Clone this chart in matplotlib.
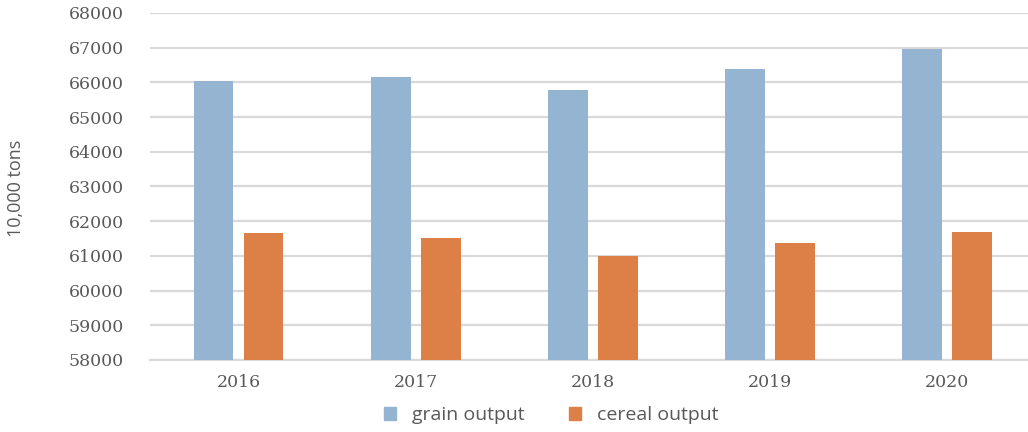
import numpy as np
import matplotlib.pyplot as plt
from matplotlib.patches import Patch

# grain and cereal output, in 10,000 tons
years = ['2016', '2017', '2018', '2019', '2020']
grain = [66043, 66161, 65789, 66384, 66949]
cereal = [61667, 61521, 61004, 61370, 61674]

blue, orange = '#95b4d1', '#dd8047'
grey_txt = '#595959'

fig = plt.figure(figsize=(10.28, 4.32), dpi=100)
ax = fig.add_axes([0.1459, 0.1667, 0.8614, 0.8033])

x = np.arange(len(years))
w = 0.225
ax.bar(x - 0.141, np.array(grain) - 58000, w, bottom=58000, color=blue, zorder=3)
ax.bar(x + 0.141, np.array(cereal) - 58000, w, bottom=58000, color=orange, zorder=3)

ax.set_xlim(-0.5, len(years) - 0.5)
ax.set_ylim(58000, 68000)
ax.set_yticks(range(58000, 68001, 1000))
ax.yaxis.grid(True, color='#d9d9d9', linewidth=1.6, zorder=0)
for s in ['top', 'right', 'left']:
    ax.spines[s].set_visible(False)
ax.spines['bottom'].set_color('#d9d9d9')
ax.spines['bottom'].set_linewidth(1.6)
ax.tick_params(length=0)
ax.tick_params(axis='y', pad=19)
ax.tick_params(axis='x', pad=10)
ax.set_xticks(x)
ax.set_xticklabels(years)
for lab in ax.get_xticklabels() + ax.get_yticklabels():
    lab.set_fontfamily('DejaVu Serif')
    lab.set_fontsize(12.5)
    lab.set_color(grey_txt)

fig.text(0.016, 0.565, '10,000 tons', rotation=90, ha='center', va='center',
         fontsize=13, color=grey_txt, family='Open Sans')

handles = [Patch(color=blue, label='grain output'), Patch(color=orange, label='cereal output')]
fig.legend(handles=handles, loc='center', bbox_to_anchor=(0.5365, 0.039), ncol=2,
           frameon=False, handlelength=0.62, handleheight=0.62, handletextpad=0.82,
           columnspacing=2.27, prop={'family': 'Open Sans', 'size': 14},
           labelcolor=grey_txt)

fig.savefig('out.png', dpi=100)
